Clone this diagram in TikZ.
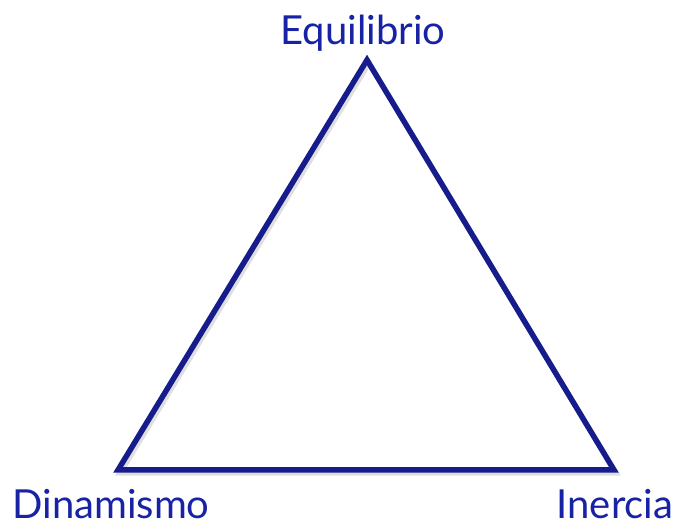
\documentclass[tikz,border=0pt]{standalone}
\usepackage{fontspec}
\setmainfont{Lato}
\definecolor{tri}{RGB}{22,28,140}
\definecolor{lbl}{RGB}{24,34,165}
\begin{document}
\begin{tikzpicture}[x=1pt,y=1pt,
  lab/.style={text=lbl,font=\fontsize{40}{44}\selectfont,inner sep=0pt,anchor=base}]
\useasboundingbox (0,0) rectangle (674,524);
\coordinate (T) at (367,464);
\coordinate (L) at (118,54);
\coordinate (R) at (614,54);
\draw[black!25,line width=5.5pt,line join=miter,opacity=0.5] ([shift={(2,-3)}]T) -- ([shift={(2,-3)}]L) -- ([shift={(2,-3)}]R) -- cycle;
\draw[tri,line width=5.5pt,line join=miter] (T) -- (L) -- (R) -- cycle;
\node[lab] (e) at (363,479) {Equilibrio};
\node[lab] (d) at (111,5) {Dinamismo};
\node[lab] (i) at (615,5) {Inercia};
\end{tikzpicture}
\end{document}
